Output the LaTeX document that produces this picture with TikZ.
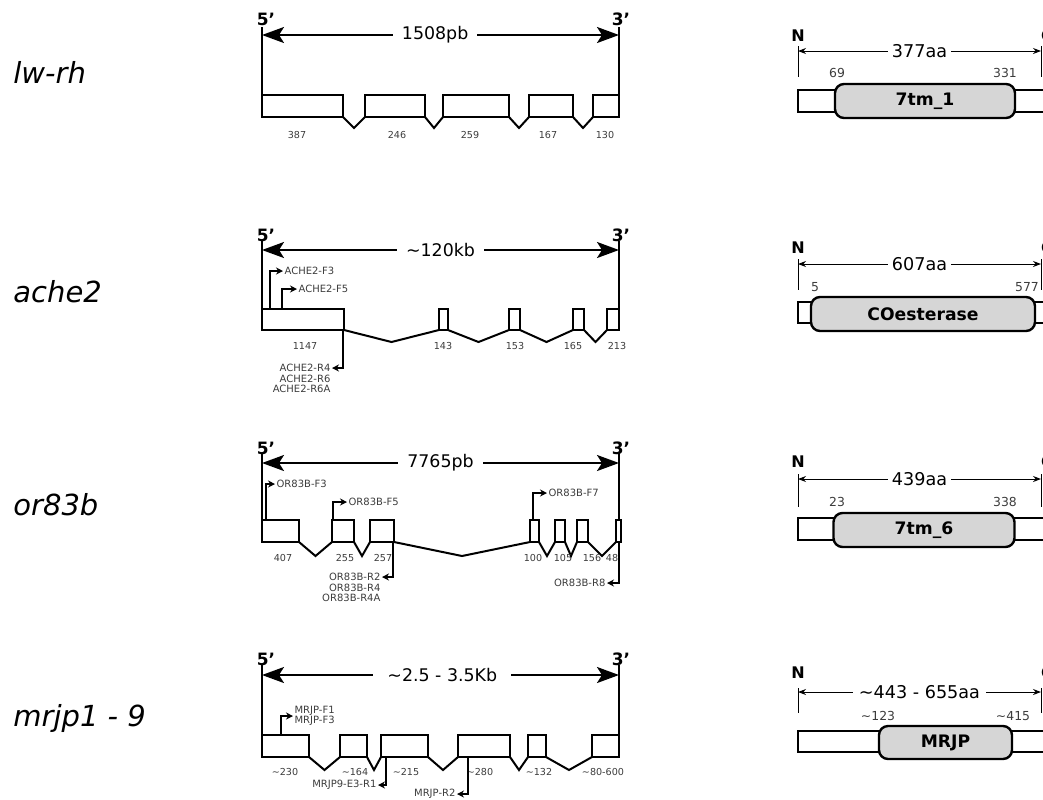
\documentclass[tikz,border=0pt]{standalone}
\usepackage{fontspec}
\setmainfont{DejaVu Sans}
\usepackage{tikz}
\usetikzlibrary{positioning,arrows.meta}
\definecolor{domaingray}{RGB}{214,214,214}
\definecolor{numgray}{RGB}{60,60,60}

\tikzset{
  genename/.style={anchor=west, inner sep=0pt, font=\fontsize{14.5}{16}\selectfont\itshape},
  endmark/.style={font=\fontsize{8.5}{9}\selectfont\bfseries, inner sep=0pt},
  endline/.style={line width=1.1pt},
  spanarrow/.style={line width=1pt,
    {Stealth[length=11pt,width=8pt,inset=2.5pt]}-{Stealth[length=11pt,width=8pt,inset=2.5pt]}},
  spantext/.style={font=\fontsize{8.7}{10}\selectfont, fill=white, inner ysep=1pt, inner xsep=4.5pt},
  exon/.style={draw, line width=1.25pt, fill=white},
  intron/.style={line width=1pt},
  exonsize/.style={font=\fontsize{4.8}{5}\selectfont, text=numgray, inner sep=0pt},
  primer/.style={line width=0.7pt, -{Stealth[length=3.5pt,width=3.5pt]}},
  primertext/.style={font=\fontsize{5}{4.8}\selectfont, text=numgray, inner sep=0.6pt},
  termmark/.style={font=\fontsize{8}{9}\selectfont\bfseries, inner sep=0pt},
  tick/.style={line width=0.5pt},
  lenarrow/.style={line width=0.5pt, {Stealth[length=4pt,width=3pt]}-{Stealth[length=4pt,width=3pt]}},
  lentext/.style={font=\fontsize{8.8}{10}\selectfont, fill=white, inner ysep=0.5pt, inner xsep=2pt},
  resnum/.style={font=\fontsize{6.2}{7}\selectfont, text=numgray, inner sep=0pt},
  protbar/.style={draw, line width=1.2pt, fill=white},
  domainbox/.style={draw, line width=1.2pt, fill=domaingray, rounded corners=4.5pt,
    minimum height=17pt, inner sep=0pt, font=\fontsize{8.6}{10}\selectfont\bfseries}
}

\begin{document}
\begin{tikzpicture}[x=0.5pt, y=-0.5pt]
  \useasboundingbox (0,0) rectangle (1043,799);
  \clip (0,0) rectangle (1043,799);

  % gene names
  \node[genename] (lwrh) at (13,72) {lw-rh};
  \node[genename] (ache) at (13,292) {ache2};
  \node[genename] (orco) at (13,505) {or83b};
  \node[genename] (mrjp) at (13,718) {mrjp1 - 9};

  % ---- lw-rh ----
  \node[endmark] (g1five) at (266,19) {5'};
  \node[endmark] (g1three) at (621,19) {3'};
  \coordinate (g1l) at (262,35);
  \coordinate (g1r) at (619,35);
  \draw[endline] (262,27) -- (262,117);
  \draw[endline] (619,27) -- (619,117);
  \draw[spanarrow] (g1l) -- (g1r) node[spantext, pos=0.485] (g1len) {1508pb};
  \foreach \a/\b in {343/365, 425/443, 509/529, 573/593}
    \draw[intron] (\a,117) -- ({(\a+\b)/2},128) -- (\b,117);
  \foreach \a/\b in {262/343, 365/425, 443/509, 529/573, 593/619}
    \draw[exon] (\a,95) rectangle (\b,117);
  \foreach \x/\t in {297/387, 397/246, 470/259, 548/167, 605/130}
    \node[exonsize] (g1s\x) at (\x,135) {\t};

  % ---- ache2 ----
  \node[endmark] (g2five) at (266,235) {5'};
  \node[endmark] (g2three) at (621,235) {3'};
  \coordinate (g2l) at (262,250);
  \coordinate (g2r) at (619,250);
  \draw[endline] (262,241) -- (262,330);
  \draw[endline] (619,241) -- (619,330);
  \draw[spanarrow] (g2l) -- (g2r) node[spantext, pos=0.5] (g2len) {\textasciitilde120kb};
  \foreach \a/\b in {344/439, 448/509, 520/573, 584/607}
    \draw[intron] (\a,330) -- ({(\a+\b)/2},342) -- (\b,330);
  \foreach \a/\b in {262/344, 439/448, 509/520, 573/584, 607/619}
    \draw[exon] (\a,309) rectangle (\b,330);
  \foreach \x/\t in {305/1147, 443/143, 515/153, 573/165, 617/213}
    \node[exonsize] (g2s\x) at (\x,346) {\t};
  \node[primertext, anchor=west] (achFa) at (283,271) {ACHE2-F3};
  \node[primertext, anchor=west] (achFb) at (297,289) {ACHE2-F5};
  \draw[primer] (270,309) |- (achFa);
  \draw[primer] (282,309) |- (achFb);
  \node[primertext, anchor=east] (achRa) at (332,368) {ACHE2-R4};
  \node[primertext, anchor=north east, align=right] (achRb) at (achRa.south east) {ACHE2-R6\\ACHE2-R6A};
  \draw[primer] (343,330) |- (achRa);

  % ---- or83b ----
  \node[endmark] (g3five) at (266,448) {5'};
  \node[endmark] (g3three) at (621,448) {3'};
  \coordinate (g3l) at (262,463);
  \coordinate (g3r) at (619,463);
  \draw[endline] (262,453) -- (262,542);
  \draw[endline] (619,453) -- (619,542);
  \draw[spanarrow] (g3l) -- (g3r) node[spantext, pos=0.5] (g3len) {7765pb};
  \foreach \a/\b in {299/332, 354/370, 394/530, 539/555, 565/577, 588/616}
    \draw[intron] (\a,542) -- ({(\a+\b)/2},556) -- (\b,542);
  \foreach \a/\b in {262/299, 332/354, 370/394, 530/539, 555/565, 577/588, 616/621}
    \draw[exon] (\a,520) rectangle (\b,542);
  \foreach \x/\t in {283/407, 345/255, 383/257, 533/100, 563/105, 592/156, 612/48}
    \node[exonsize] (g3s\x) at (\x,558) {\t};
  \node[primertext, anchor=west] (orFa) at (275,484) {OR83B-F3};
  \node[primertext, anchor=west] (orFb) at (347,502) {OR83B-F5};
  \node[primertext, anchor=west] (orFc) at (547,493) {OR83B-F7};
  \draw[primer] (266,520) |- (orFa);
  \draw[primer] (333,520) |- (orFb);
  \draw[primer] (533,520) |- (orFc);
  \node[primertext, anchor=east] (orRa) at (382,577) {OR83B-R2};
  \node[primertext, anchor=north east, align=right] (orRb) at (orRa.south east) {OR83B-R4\\OR83B-R4A};
  \node[primertext, anchor=east] (orRc) at (607,583) {OR83B-R8};
  \draw[primer] (393,542) |- (orRa);
  \draw[primer] (619,542) |- (orRc);

  % ---- mrjp1-9 ----
  \node[endmark] (g4five) at (266,659) {5'};
  \node[endmark] (g4three) at (621,659) {3'};
  \coordinate (g4l) at (262,675);
  \coordinate (g4r) at (619,675);
  \draw[endline] (262,665) -- (262,757);
  \draw[endline] (619,665) -- (619,757);
  \draw[spanarrow] (g4l) -- (g4r) node[spantext, pos=0.505, inner xsep=7pt] (g4len) {\textasciitilde2.5 - 3.5Kb};
  \foreach \a/\b in {309/340, 367/381, 428/458, 510/528, 546/592}
    \draw[intron] (\a,757) -- ({(\a+\b)/2},770) -- (\b,757);
  \foreach \a/\b in {262/309, 340/367, 381/428, 458/510, 528/546, 592/619}
    \draw[exon] (\a,735) rectangle (\b,757);
  \foreach \x/\t in {285/230, 355/164, 406/215, 480/280, 539/132, 603/80-600}
    \node[exonsize] (g4s\x) at (\x,772) {\textasciitilde\t};
  \node[primertext, anchor=west, align=left] (mrFa) at (293,716) {MRJP-F1\\MRJP-F3};
  \draw[primer] (281,735) |- (mrFa);
  \node[primertext, anchor=east] (mrRa) at (378,785) {MRJP9-E3-R1};
  \node[primertext, anchor=east] (mrRb) at (457,794) {MRJP-R2};
  \draw[primer] (386,757) |- (mrRa);
  \draw[primer] (468,757) |- (mrRb);

  % ---- proteins ----
  \node[termmark] (p1n) at (798,36) {N};
  \node[termmark] (p1c) at (1047,36) {C};
  \draw[tick] (798,46) -- (798,77);
  \draw[tick] (1041,46) -- (1041,77);
  \draw[lenarrow] (798,51) -- (1041,51) node[lentext, midway] (p1len) {377aa};
  \node[resnum] (p1a) at (837,73) {69};
  \node[resnum] (p1b) at (1005,73) {331};
  \draw[protbar] (798,90) rectangle (1080,112);
  \node[domainbox, minimum width=90pt] (p1dom) at (925,101) {7tm\_1};

  \node[termmark] (p2n) at (798,248) {N};
  \node[termmark] (p2c) at (1047,248) {C};
  \draw[tick] (798,259) -- (798,290);
  \draw[tick] (1041,259) -- (1041,290);
  \draw[lenarrow] (798,264) -- (1041,264) node[lentext, midway] (p2len) {607aa};
  \node[resnum] (p2a) at (815,287) {5};
  \node[resnum] (p2b) at (1027,287) {577};
  \draw[protbar] (798,302) rectangle (1080,323);
  \node[domainbox, minimum width=112pt] (p2dom) at (923,314) {COesterase};

  \node[termmark] (p3n) at (798,462) {N};
  \node[termmark] (p3c) at (1047,462) {C};
  \draw[tick] (798,474) -- (798,507);
  \draw[tick] (1041,474) -- (1041,507);
  \draw[lenarrow] (798,479) -- (1041,479) node[lentext, midway] (p3len) {439aa};
  \node[resnum] (p3a) at (837,502) {23};
  \node[resnum] (p3b) at (1005,502) {338};
  \draw[protbar] (798,518) rectangle (1080,540);
  \node[domainbox, minimum width=90.5pt] (p3dom) at (924,530) {7tm\_6};

  \node[termmark] (p4n) at (798,673) {N};
  \node[termmark] (p4c) at (1047,673) {C};
  \draw[tick] (798,688) -- (798,713);
  \draw[tick] (1041,688) -- (1041,713);
  \draw[lenarrow] (798,692) -- (1041,692) node[lentext, midway, inner xsep=3pt] (p4len) {\textasciitilde443 - 655aa};
  \node[resnum] (p4a) at (878,716) {\textasciitilde123};
  \node[resnum] (p4b) at (1013,716) {\textasciitilde415};
  \draw[protbar] (798,731) rectangle (1080,752);
  \node[domainbox, minimum width=66.5pt, minimum height=16.5pt] (p4dom) at (945.5,742.5) {MRJP};
\end{tikzpicture}
\end{document}
